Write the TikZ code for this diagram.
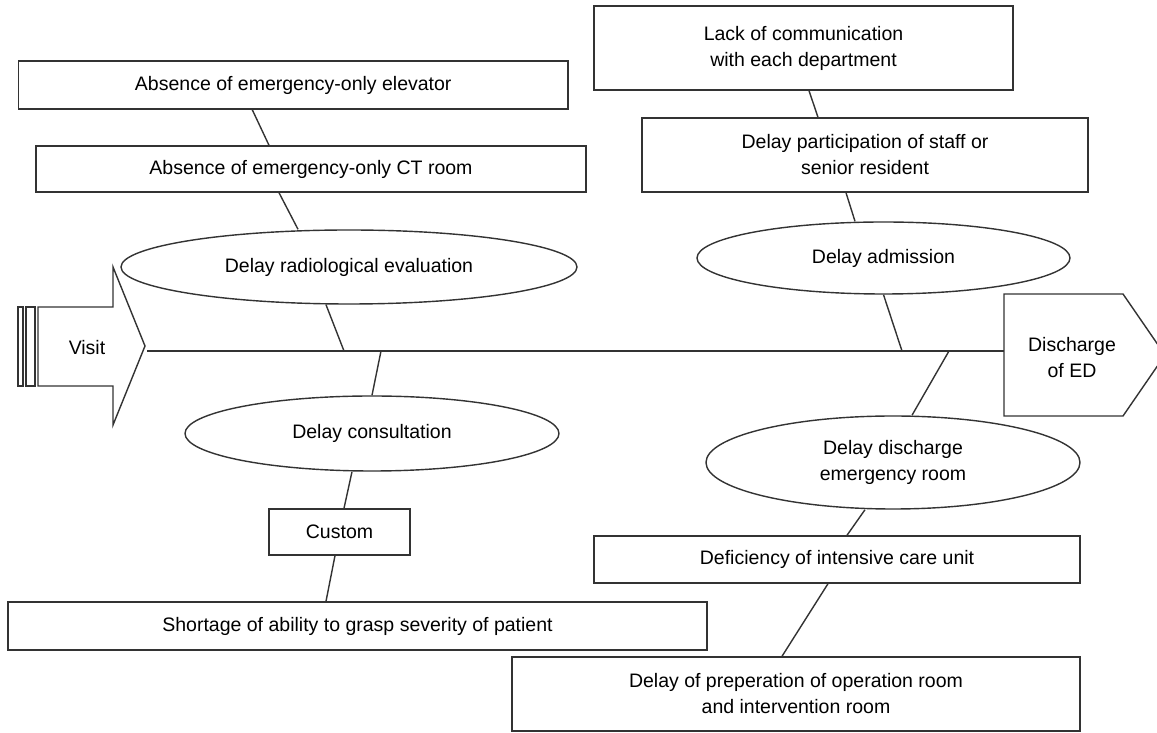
\documentclass[tikz,border=0pt]{standalone}
\usepackage{fontspec}
\setmainfont{Liberation Sans}
\usepackage{tikz}
\usetikzlibrary{shapes.geometric}
\tikzset{box/.style={draw,rectangle,inner sep=0pt,align=center,text=black}}
\tikzset{oval/.style={draw,ellipse,inner sep=0pt,align=center,text=black}}

\begin{document}
\begin{tikzpicture}[black!80, line width=0.8pt, font=\fontsize{11.1}{14.8}\selectfont]
        \useasboundingbox (0,0) rectangle (23.14,14.66);
        % start and end of the spine
        \draw (0.36,6.94) rectangle (0.46,8.52);
        \draw (0.52,6.94) rectangle (0.70,8.52);
        \draw (0.76,6.94) -- (2.26,6.94) -- (2.26,6.16) -- (2.90,7.74) -- (2.26,9.32) -- (2.26,8.52) -- (0.76,8.52) -- cycle;
        \draw (20.08,6.34) -- (20.08,8.78) -- (22.46,8.78) -- (23.30,7.56) -- (22.46,6.34) -- cycle;
        \node[text=black] (visit) at (1.74,7.70) {Visit};
        \node[align=center,text=black] (ed) at (21.44,7.50) {Discharge\\of ED};
        \coordinate (visittip) at (2.94,7.64);
        \coordinate (edtail) at (20.08,7.64);
        \coordinate (j1) at (6.88,7.64);
        \coordinate (j2) at (7.62,7.64);
        \coordinate (j3) at (18.04,7.64);
        \coordinate (j4) at (18.98,7.64);
        \draw (visittip) -- (edtail);
        % causes
        \node[box, minimum width=10.99cm, minimum height=0.96cm] (elev) at (5.865,12.96) {Absence of emergency-only elevator};
        \node[box, minimum width=11cm, minimum height=0.92cm] (ct) at (6.22,11.28) {Absence of emergency-only CT room};
        \node[oval, minimum width=9.12cm, minimum height=1.48cm] (radio) at (6.98,9.32) {Delay radiological evaluation};
        \node[oval, minimum width=7.48cm, minimum height=1.5cm] (consult) at (7.44,5.99) {Delay consultation};
        \node[box, minimum width=2.82cm, minimum height=0.92cm] (custom) at (6.79,4.02) {Custom};
        \node[box, minimum width=13.98cm, minimum height=0.96cm] (grasp) at (7.15,2.14) {Shortage of ability to grasp severity of patient};
        \node[box, minimum width=8.38cm, minimum height=1.68cm] (comm) at (16.07,13.70) {Lack of communication\\with each department};
        \node[box, minimum width=8.92cm, minimum height=1.48cm] (staff) at (17.30,11.56) {Delay participation of staff or\\senior resident};
        \node[oval, minimum width=7.46cm, minimum height=1.44cm] (admit) at (17.67,9.50) {Delay admission};
        \node[oval, minimum width=7.48cm, minimum height=1.86cm] (leave) at (17.86,5.41) {Delay discharge\\emergency room};
        \node[box, minimum width=9.72cm, minimum height=0.94cm] (icu) at (16.74,3.47) {Deficiency of intensive care unit};
        \node[box, minimum width=11.36cm, minimum height=1.48cm] (oproom) at (15.92,0.78) {Delay of preperation of operation room\\and intervention room};
        % bones
        \path ([xshift=-0.82cm]elev.south) edge ([xshift=-0.84cm]ct.north);
        \path ([xshift=-0.64cm]ct.south) edge ([xshift=-1.02cm]radio.north);
        \path ([xshift=-0.46cm]radio.south) edge (j1);
        \path (j2) edge (consult.north);
        \path ([xshift=-0.40cm]consult.south) edge ([xshift=0.09cm]custom.north);
        \path ([xshift=-0.09cm]custom.south) edge ([xshift=-0.63cm]grasp.north);
        \path ([xshift=0.11cm]comm.south) edge ([xshift=-0.94cm]staff.north);
        \path ([xshift=-0.38cm]staff.south) edge ([xshift=-0.57cm]admit.north);
        \path (admit.south) edge (j3);
        \path (j4) edge ([xshift=0.38cm]leave.north);
        \path ([xshift=-0.56cm]leave.south) edge ([xshift=0.20cm]icu.north);
        \path ([xshift=-0.18cm]icu.south) edge ([xshift=-0.28cm]oproom.north);
\end{tikzpicture}
\end{document}
